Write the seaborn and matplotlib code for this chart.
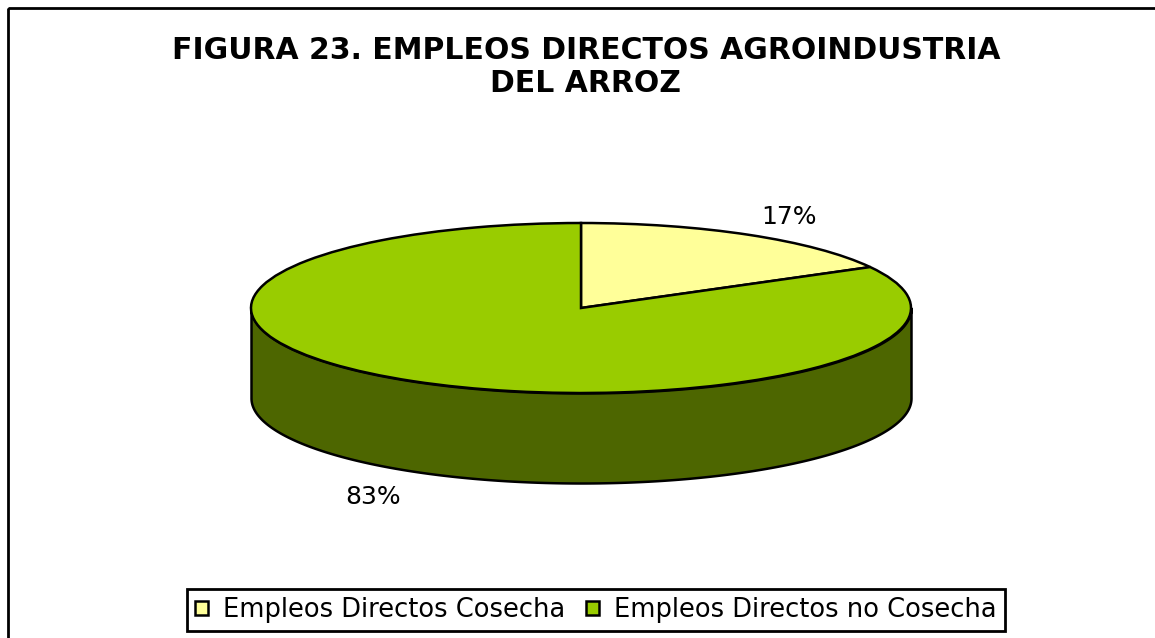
import numpy as np
import matplotlib
matplotlib.use("Agg")
import matplotlib.pyplot as plt
from matplotlib.patches import Patch, Rectangle
import seaborn as sns

sns.set_theme(style="white")
plt.rcParams['font.family'] = ['DejaVu Sans']

categories = ['Empleos Directos Cosecha', 'Empleos Directos no Cosecha']
shares = [17, 83]
pct_labels = ['17%', '83%']
colors = ['#FFFF99', '#99CC00']
side_color = '#4D6600'
title = 'FIGURA 23. EMPLEOS DIRECTOS AGROINDUSTRIA\nDEL ARROZ'

W, H = 1155, 638
fig = plt.figure(figsize=(W / 100, H / 100), dpi=100)
fig.patch.set_facecolor('white')

# background axes in pixel coords: frame + title
bg = fig.add_axes([0, 0, 1, 1])
bg.set_xlim(0, W)
bg.set_ylim(H, 0)
bg.axis('off')
bg.add_patch(Rectangle((8, 8), W, H, fill=False, lw=2, ec='black', clip_on=False))
bg.text(586, 67, title, ha='center', va='center', fontsize=21.5,
        fontweight='bold', linespacing=1.15, color='black')

# pseudo-3D pie: top ellipse centre (581,308), rx 330, ry 85, depth 90 px
cx, cy, rx, ry, depth_px = 581, 308, 330, 85, 90
depth = depth_px / ry
m = 0.05
ax = fig.add_axes([(cx - rx * (1 + m)) / W,
                   1 - (cy + ry + depth_px + ry * m) / H,
                   2 * rx * (1 + m) / W,
                   (2 * ry + depth_px + 2 * ry * m) / H])
ax.patch.set_alpha(0)

wedges, _ = ax.pie(shares, colors=colors, startangle=90, counterclock=False,
                   radius=1, frame=False,
                   wedgeprops=dict(edgecolor='black', linewidth=1.8, zorder=2))

# visible front wall (lower half of ellipse)
t = np.linspace(np.pi, 2 * np.pi, 300)
ax.fill_between(np.cos(t), np.sin(t) - depth, np.sin(t), facecolor=side_color,
                edgecolor='black', linewidth=1.8, zorder=1)

ax.set_xlim(-1 - m, 1 + m)
ax.set_ylim(-1 - depth - m, 1 + m)
ax.set_aspect('auto')
ax.axis('off')

# percentage labels outside the slices
total = sum(shares)
cum = np.cumsum(shares)
for share, c, lab in zip(shares, cum, pct_labels):
    mid = np.deg2rad(90 - 360 * (c - share / 2) / total)
    x = 1.24 * np.cos(mid)
    y = 1.24 * np.sin(mid)
    if y < 0:
        y -= depth + 0.1
    ax.text(x, y, lab, ha='center', va='center', fontsize=18, color='black',
            clip_on=False)

handles = [Patch(facecolor=col, edgecolor='black', linewidth=1.8) for col in colors]
leg = fig.legend(handles, categories, ncol=2, loc='center',
                 bbox_to_anchor=(596 / W, 1 - 610 / H), frameon=True,
                 fancybox=False, edgecolor='black', framealpha=1, fontsize=18.5,
                 handlelength=0.5, handleheight=0.5, handletextpad=0.6,
                 columnspacing=0.8, borderpad=0.3, borderaxespad=0)
leg.get_frame().set_linewidth(2)
for txt in leg.get_texts():
    txt.set_color('black')

fig.savefig('out.png', dpi=100, facecolor='white')
